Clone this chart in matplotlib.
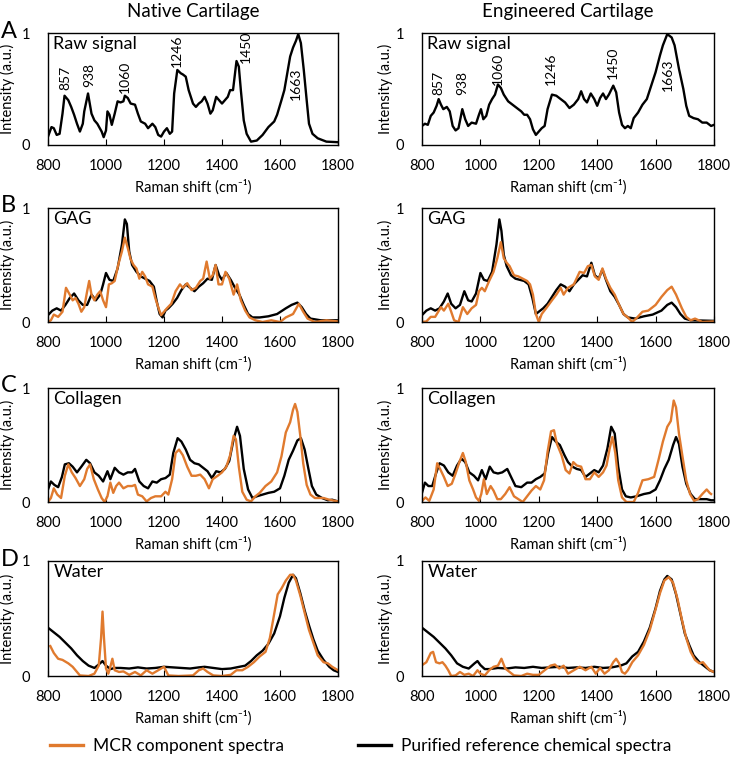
import numpy as np
import matplotlib
matplotlib.use("Agg")
import matplotlib.pyplot as plt
from matplotlib.lines import Line2D

plt.rcParams['font.family'] = ['Lato', 'DejaVu Sans']

ORANGE = '#E07A2E'

col_titles = ['Native Cartilage', 'Engineered Cartilage']
row_letters = ['A', 'B', 'C', 'D']
row_names = ['Raw signal', 'GAG', 'Collagen', 'Water']
legend_labels = ['MCR component spectra', 'Purified reference chemical spectra']
x_ticks = [800, 1000, 1200, 1400, 1600, 1800]

# peak labels on the raw spectra (text, x, y)
peak_text = ['857', '938', '1060', '1246', '1450', '1663']
peak_x_native = [861, 942, 1066, 1245, 1482, 1655]
peak_y_native = [0.49, 0.52, 0.46, 0.70, 0.73, 0.55]
peak_x_eng = [857, 938, 1061, 1243, 1455, 1643]
peak_y_eng = [0.45, 0.45, 0.54, 0.54, 0.59, 0.63]

# ---- A: raw signal ----
raw_nat_x = [800, 812, 820, 830, 840, 850, 857, 870, 880, 890, 900, 910, 920, 925, 938, 950,
             960, 970, 985, 992, 1000, 1005, 1012, 1020, 1030, 1040, 1050, 1060, 1065, 1075,
             1085, 1100, 1110, 1120, 1135, 1145, 1160, 1170, 1180, 1190, 1200, 1210, 1220,
             1228, 1235, 1246, 1258, 1265, 1275, 1285, 1300, 1310, 1320, 1330, 1340, 1350,
             1360, 1368, 1380, 1390, 1400, 1410, 1420, 1428, 1438, 1450, 1458, 1465, 1475,
             1485, 1500, 1520, 1540, 1560, 1580, 1590, 1605, 1615, 1625, 1635, 1645, 1655,
             1663, 1672, 1682, 1692, 1700, 1712, 1730, 1760, 1800]
raw_nat_y = [0.075, 0.16, 0.15, 0.09, 0.10, 0.28, 0.44, 0.40, 0.34, 0.27, 0.19, 0.12, 0.19, 0.30,
             0.46, 0.28, 0.22, 0.19, 0.12, 0.07, 0.13, 0.30, 0.27, 0.18, 0.28, 0.39, 0.38, 0.39,
             0.44, 0.42, 0.37, 0.36, 0.28, 0.21, 0.19, 0.15, 0.19, 0.16, 0.09, 0.075, 0.12, 0.15,
             0.10, 0.12, 0.46, 0.67, 0.64, 0.63, 0.61, 0.49, 0.37, 0.34, 0.37, 0.39, 0.43, 0.37,
             0.28, 0.31, 0.43, 0.40, 0.37, 0.40, 0.43, 0.49, 0.49, 0.75, 0.70, 0.49, 0.22, 0.10,
             0.03, 0.04, 0.09, 0.16, 0.21, 0.27, 0.40, 0.49, 0.64, 0.79, 0.87, 0.93, 0.99, 0.91,
             0.67, 0.40, 0.19, 0.10, 0.06, 0.03, 0.025]

raw_eng_x = [800, 810, 820, 830, 840, 850, 857, 865, 873, 885, 895, 905, 915, 925, 938, 948,
             958, 970, 985, 995, 1002, 1010, 1020, 1030, 1040, 1050, 1060, 1070, 1080, 1095,
             1110, 1125, 1140, 1150, 1160, 1170, 1180, 1190, 1200, 1210, 1220, 1230, 1245,
             1260, 1275, 1290, 1305, 1320, 1335, 1345, 1355, 1365, 1378, 1390, 1400, 1410,
             1420, 1430, 1440, 1455, 1465, 1475, 1485, 1495, 1505, 1515, 1525, 1540, 1555,
             1570, 1585, 1600, 1615, 1625, 1640, 1655, 1665, 1680, 1695, 1705, 1715, 1730,
             1745, 1760, 1775, 1790, 1800]
raw_eng_y = [0.17, 0.19, 0.18, 0.26, 0.29, 0.35, 0.41, 0.36, 0.32, 0.34, 0.30, 0.17, 0.13, 0.15,
             0.32, 0.23, 0.17, 0.20, 0.19, 0.27, 0.32, 0.23, 0.26, 0.36, 0.41, 0.45, 0.54, 0.51,
             0.45, 0.39, 0.36, 0.33, 0.30, 0.27, 0.27, 0.23, 0.14, 0.09, 0.12, 0.15, 0.17, 0.32,
             0.45, 0.44, 0.41, 0.38, 0.33, 0.36, 0.41, 0.48, 0.41, 0.38, 0.46, 0.41, 0.35, 0.42,
             0.46, 0.41, 0.45, 0.53, 0.47, 0.29, 0.18, 0.15, 0.17, 0.15, 0.24, 0.29, 0.36, 0.41,
             0.53, 0.65, 0.80, 0.89, 0.99, 0.96, 0.89, 0.68, 0.50, 0.35, 0.26, 0.24, 0.23, 0.20,
             0.20, 0.17, 0.18]

# ---- B: GAG ----
gag_nat_ref_x = [800, 815, 830, 845, 860, 875, 890, 905, 920, 935, 950, 965, 980, 990, 1000, 1012,
                 1025, 1040, 1055, 1065, 1072, 1080, 1090, 1105, 1120, 1135, 1150, 1165, 1175,
                 1185, 1195, 1205, 1215, 1230, 1245, 1260, 1275, 1290, 1305, 1320, 1335, 1350,
                 1365, 1378, 1390, 1400, 1415, 1430, 1445, 1460, 1475, 1490, 1505, 1530, 1560,
                 1590, 1620, 1640, 1660, 1675, 1690, 1705, 1740, 1800]
gag_nat_ref_y = [0.06, 0.10, 0.12, 0.10, 0.15, 0.21, 0.25, 0.19, 0.15, 0.15, 0.24, 0.19, 0.24, 0.33,
                 0.43, 0.37, 0.36, 0.47, 0.68, 0.90, 0.86, 0.62, 0.50, 0.44, 0.40, 0.38, 0.36, 0.31,
                 0.18, 0.07, 0.04, 0.10, 0.12, 0.16, 0.21, 0.28, 0.33, 0.30, 0.27, 0.31, 0.34, 0.38,
                 0.37, 0.50, 0.41, 0.37, 0.43, 0.37, 0.30, 0.24, 0.15, 0.07, 0.04, 0.04, 0.05, 0.07,
                 0.12, 0.15, 0.17, 0.13, 0.07, 0.03, 0.015, 0.015]
gag_nat_mcr_x = [800, 810, 820, 835, 850, 862, 875, 885, 895, 905, 915, 925, 935, 942, 950, 960,
                 970, 980, 990, 1000, 1010, 1020, 1030, 1042, 1055, 1065, 1075, 1085, 1095, 1105,
                 1115, 1125, 1135, 1145, 1160, 1170, 1180, 1190, 1200, 1210, 1225, 1240, 1255,
                 1265, 1280, 1295, 1310, 1325, 1335, 1347, 1358, 1368, 1378, 1388, 1400, 1412,
                 1425, 1440, 1452, 1465, 1480, 1495, 1515, 1540, 1570, 1600, 1620, 1645, 1665,
                 1680, 1695, 1720, 1760, 1800]
gag_nat_mcr_y = [0.0, 0.015, 0.065, 0.045, 0.09, 0.30, 0.24, 0.19, 0.21, 0.16, 0.09, 0.13, 0.27,
                 0.36, 0.24, 0.19, 0.24, 0.27, 0.19, 0.13, 0.33, 0.34, 0.36, 0.50, 0.62, 0.74, 0.65,
                 0.55, 0.50, 0.47, 0.38, 0.44, 0.40, 0.33, 0.31, 0.21, 0.13, 0.06, 0.09, 0.12, 0.16,
                 0.27, 0.33, 0.30, 0.34, 0.28, 0.30, 0.36, 0.38, 0.53, 0.38, 0.41, 0.50, 0.33, 0.33,
                 0.44, 0.38, 0.24, 0.33, 0.19, 0.10, 0.04, 0.015, 0.0, 0.015, 0.0, 0.04, 0.07, 0.16,
                 0.09, 0.03, 0.0, 0.015, 0.005]

gag_eng_ref_x = [800, 815, 830, 845, 860, 875, 888, 900, 915, 930, 945, 958, 970, 985, 1000, 1012,
                 1025, 1040, 1055, 1065, 1072, 1080, 1090, 1105, 1120, 1135, 1150, 1165, 1178,
                 1190, 1200, 1215, 1230, 1245, 1260, 1275, 1290, 1305, 1320, 1335, 1350, 1365,
                 1380, 1392, 1405, 1418, 1430, 1445, 1460, 1475, 1490, 1505, 1530, 1560, 1590,
                 1620, 1640, 1655, 1670, 1685, 1700, 1720, 1800]
gag_eng_ref_y = [0.06, 0.10, 0.12, 0.10, 0.12, 0.18, 0.25, 0.16, 0.12, 0.15, 0.27, 0.19, 0.18, 0.25,
                 0.43, 0.37, 0.36, 0.44, 0.68, 0.90, 0.80, 0.59, 0.49, 0.41, 0.38, 0.37, 0.36, 0.33,
                 0.21, 0.07, 0.09, 0.12, 0.16, 0.22, 0.28, 0.33, 0.31, 0.27, 0.33, 0.37, 0.41, 0.40,
                 0.52, 0.41, 0.38, 0.46, 0.37, 0.27, 0.22, 0.15, 0.07, 0.04, 0.03, 0.05, 0.065, 0.10,
                 0.15, 0.17, 0.13, 0.07, 0.03, 0.015, 0.01]
gag_eng_mcr_x = [800, 815, 830, 845, 865, 875, 890, 900, 910, 925, 940, 955, 970, 985, 995, 1005,
                 1015, 1030, 1045, 1058, 1070, 1080, 1090, 1100, 1115, 1130, 1145, 1160, 1170,
                 1180, 1190, 1200, 1210, 1225, 1245, 1260, 1275, 1285, 1300, 1320, 1340, 1355,
                 1368, 1380, 1392, 1405, 1418, 1430, 1445, 1460, 1475, 1490, 1505, 1520, 1535,
                 1555, 1575, 1600, 1620, 1640, 1655, 1670, 1690, 1705, 1720, 1735, 1760, 1800]
gag_eng_mcr_y = [0.0, 0.005, 0.045, 0.045, 0.13, 0.10, 0.16, 0.09, 0.015, 0.0, 0.13, 0.07, 0.12,
                 0.15, 0.27, 0.30, 0.27, 0.36, 0.44, 0.56, 0.70, 0.56, 0.52, 0.49, 0.41, 0.40, 0.38,
                 0.36, 0.33, 0.24, 0.07, 0.0, 0.07, 0.12, 0.19, 0.24, 0.30, 0.24, 0.30, 0.33, 0.44,
                 0.43, 0.49, 0.50, 0.40, 0.37, 0.47, 0.38, 0.30, 0.24, 0.15, 0.07, 0.04, 0.0, 0.035,
                 0.09, 0.10, 0.15, 0.22, 0.28, 0.31, 0.24, 0.12, 0.045, 0.015, 0.03, 0.0, 0.005]

# ---- C: collagen ----
col_nat_ref_x = [800, 810, 822, 835, 848, 858, 872, 885, 900, 915, 932, 945, 960, 975, 990, 1005,
                 1015, 1030, 1045, 1060, 1075, 1090, 1100, 1115, 1130, 1145, 1160, 1175, 1190,
                 1205, 1220, 1232, 1247, 1260, 1275, 1290, 1305, 1320, 1335, 1350, 1365, 1380,
                 1395, 1410, 1425, 1440, 1452, 1462, 1475, 1490, 1505, 1520, 1540, 1560, 1580,
                 1600, 1615, 1630, 1645, 1660, 1672, 1685, 1698, 1710, 1725, 1745, 1765, 1780, 1800]
col_nat_ref_y = [0.11, 0.18, 0.15, 0.13, 0.22, 0.33, 0.34, 0.31, 0.26, 0.31, 0.37, 0.34, 0.26, 0.23,
                 0.18, 0.27, 0.20, 0.30, 0.26, 0.24, 0.26, 0.26, 0.29, 0.18, 0.14, 0.12, 0.18, 0.17,
                 0.20, 0.21, 0.24, 0.43, 0.56, 0.53, 0.46, 0.37, 0.34, 0.33, 0.30, 0.27, 0.21, 0.27,
                 0.26, 0.29, 0.36, 0.55, 0.66, 0.58, 0.29, 0.11, 0.035, 0.05, 0.065, 0.08, 0.09, 0.12,
                 0.23, 0.37, 0.45, 0.54, 0.56, 0.46, 0.29, 0.14, 0.065, 0.035, 0.015, 0.02, 0.005]
col_nat_mcr_x = [800, 810, 820, 832, 845, 858, 870, 882, 895, 910, 925, 935, 945, 958, 972, 985,
                 995, 1005, 1015, 1025, 1035, 1045, 1060, 1075, 1090, 1100, 1110, 1125, 1140,
                 1155, 1170, 1190, 1205, 1215, 1228, 1240, 1252, 1265, 1280, 1295, 1310, 1325,
                 1340, 1355, 1368, 1385, 1400, 1415, 1428, 1440, 1448, 1458, 1470, 1485, 1500,
                 1515, 1530, 1550, 1570, 1590, 1605, 1620, 1635, 1645, 1652, 1660, 1670, 1680,
                 1692, 1705, 1720, 1750, 1770, 1800]
col_nat_mcr_y = [0.0, 0.035, 0.12, 0.065, 0.035, 0.23, 0.33, 0.26, 0.21, 0.14, 0.20, 0.29, 0.33,
                 0.20, 0.11, 0.035, 0.0, 0.05, 0.17, 0.08, 0.14, 0.17, 0.12, 0.14, 0.14, 0.15, 0.065,
                 0.05, 0.005, 0.035, 0.05, 0.05, 0.09, 0.065, 0.20, 0.43, 0.46, 0.41, 0.31, 0.23,
                 0.23, 0.24, 0.20, 0.12, 0.20, 0.23, 0.26, 0.31, 0.41, 0.58, 0.55, 0.31, 0.09, 0.02,
                 0.005, 0.05, 0.08, 0.14, 0.18, 0.26, 0.40, 0.61, 0.70, 0.81, 0.86, 0.79, 0.58, 0.34,
                 0.15, 0.065, 0.035, 0.035, 0.02, 0.005]

col_eng_ref_x = [800, 810, 822, 835, 848, 860, 875, 890, 905, 920, 935, 948, 962, 978, 992, 1005,
                 1018, 1032, 1045, 1060, 1075, 1092, 1105, 1120, 1140, 1160, 1175, 1190, 1205,
                 1220, 1232, 1245, 1258, 1272, 1288, 1300, 1315, 1330, 1345, 1360, 1375, 1390,
                 1405, 1420, 1435, 1448, 1460, 1472, 1485, 1498, 1515, 1535, 1560, 1580, 1600,
                 1615, 1630, 1645, 1660, 1670, 1680, 1692, 1705, 1720, 1735, 1755, 1775, 1790, 1800]
col_eng_ref_y = [0.08, 0.17, 0.14, 0.14, 0.25, 0.34, 0.32, 0.26, 0.23, 0.32, 0.38, 0.35, 0.26, 0.23,
                 0.19, 0.28, 0.20, 0.31, 0.26, 0.25, 0.26, 0.29, 0.22, 0.14, 0.13, 0.17, 0.17, 0.20,
                 0.22, 0.25, 0.43, 0.57, 0.53, 0.50, 0.41, 0.35, 0.31, 0.29, 0.28, 0.22, 0.25, 0.28,
                 0.26, 0.32, 0.47, 0.66, 0.60, 0.31, 0.11, 0.05, 0.04, 0.05, 0.07, 0.08, 0.11, 0.19,
                 0.29, 0.37, 0.50, 0.57, 0.51, 0.31, 0.16, 0.07, 0.025, 0.025, 0.025, 0.015, 0.015]
col_eng_mcr_x = [800, 812, 825, 840, 852, 862, 875, 888, 902, 915, 928, 940, 950, 962, 975, 985,
                 995, 1003, 1012, 1022, 1035, 1045, 1058, 1070, 1085, 1100, 1115, 1130, 1145,
                 1160, 1175, 1190, 1205, 1218, 1230, 1242, 1252, 1262, 1278, 1292, 1305, 1318,
                 1330, 1345, 1360, 1375, 1390, 1405, 1420, 1432, 1442, 1452, 1462, 1472, 1485,
                 1500, 1525, 1540, 1555, 1575, 1595, 1610, 1625, 1640, 1652, 1662, 1670, 1680,
                 1692, 1705, 1718, 1732, 1745, 1760, 1775, 1785, 1790]
col_eng_mcr_y = [0.01, 0.04, 0.01, 0.11, 0.34, 0.29, 0.22, 0.14, 0.16, 0.25, 0.35, 0.43, 0.35, 0.19,
                 0.11, 0.04, 0.01, 0.07, 0.20, 0.07, 0.14, 0.10, 0.025, 0.025, 0.07, 0.13, 0.05,
                 0.025, 0.0, 0.05, 0.10, 0.14, 0.11, 0.19, 0.44, 0.62, 0.63, 0.51, 0.41, 0.28, 0.25,
                 0.35, 0.32, 0.31, 0.20, 0.20, 0.26, 0.22, 0.26, 0.32, 0.46, 0.57, 0.43, 0.19, 0.04,
                 0.0, 0.0, 0.08, 0.19, 0.20, 0.22, 0.37, 0.53, 0.66, 0.71, 0.89, 0.83, 0.60, 0.40,
                 0.19, 0.07, 0.01, 0.025, 0.07, 0.11, 0.08, 0.07]

# ---- D: water ----
wat_nat_ref_x = [800, 820, 840, 860, 880, 900, 920, 940, 960, 975, 988, 1000, 1015, 1030, 1050,
                 1080, 1110, 1140, 1170, 1200, 1230, 1260, 1290, 1320, 1340, 1370, 1400, 1430,
                 1460, 1480, 1500, 1520, 1540, 1560, 1580, 1600, 1615, 1630, 1645, 1655, 1670,
                 1685, 1700, 1715, 1730, 1750, 1770, 1785, 1800]
wat_nat_ref_y = [0.42, 0.38, 0.34, 0.29, 0.24, 0.18, 0.13, 0.09, 0.07, 0.10, 0.13, 0.09, 0.06, 0.07,
                 0.07, 0.065, 0.075, 0.065, 0.07, 0.08, 0.075, 0.07, 0.065, 0.075, 0.08, 0.07, 0.06,
                 0.065, 0.08, 0.09, 0.13, 0.18, 0.22, 0.28, 0.37, 0.52, 0.68, 0.81, 0.88, 0.85, 0.72,
                 0.57, 0.44, 0.32, 0.22, 0.14, 0.08, 0.05, 0.035]
wat_nat_mcr_x = [808, 820, 835, 850, 870, 885, 900, 910, 940, 960, 975, 983, 988, 993, 1000, 1008,
                 1015, 1022, 1030, 1045, 1060, 1080, 1100, 1120, 1140, 1160, 1180, 1200, 1215,
                 1250, 1300, 1320, 1335, 1350, 1370, 1400, 1430, 1450, 1470, 1490, 1510, 1530,
                 1550, 1565, 1580, 1592, 1605, 1620, 1635, 1645, 1655, 1670, 1685, 1700, 1715,
                 1730, 1750, 1765, 1780, 1800]
wat_nat_mcr_y = [0.26, 0.20, 0.15, 0.14, 0.11, 0.08, 0.035, 0.005, 0.0, 0.02, 0.09, 0.33, 0.56,
                 0.33, 0.065, 0.02, 0.08, 0.15, 0.05, 0.035, 0.04, 0.01, 0.035, 0.005, 0.05, 0.02,
                 0.05, 0.08, 0.005, 0.0, 0.005, 0.05, 0.065, 0.035, 0.005, 0.0, 0.01, 0.05, 0.05,
                 0.08, 0.12, 0.17, 0.21, 0.33, 0.54, 0.71, 0.76, 0.83, 0.88, 0.88, 0.83, 0.70, 0.55,
                 0.40, 0.29, 0.18, 0.12, 0.11, 0.08, 0.05]

wat_eng_ref_x = [800, 820, 840, 860, 880, 900, 920, 940, 960, 980, 990, 1000, 1015, 1030, 1060,
                 1090, 1120, 1150, 1180, 1210, 1240, 1270, 1300, 1330, 1360, 1390, 1420, 1450,
                 1480, 1500, 1520, 1540, 1560, 1580, 1600, 1615, 1630, 1640, 1655, 1670, 1685,
                 1700, 1715, 1730, 1750, 1770, 1785, 1800]
wat_eng_ref_y = [0.42, 0.38, 0.34, 0.29, 0.24, 0.18, 0.11, 0.08, 0.065, 0.11, 0.13, 0.095, 0.06,
                 0.06, 0.07, 0.065, 0.075, 0.07, 0.08, 0.07, 0.075, 0.08, 0.07, 0.075, 0.07, 0.08,
                 0.07, 0.075, 0.09, 0.11, 0.17, 0.21, 0.30, 0.42, 0.59, 0.74, 0.84, 0.87, 0.84, 0.71,
                 0.54, 0.37, 0.27, 0.18, 0.12, 0.08, 0.05, 0.035]
wat_eng_mcr_x = [800, 815, 830, 838, 848, 860, 870, 880, 890, 900, 915, 930, 945, 960, 975, 990,
                 1000, 1015, 1030, 1045, 1060, 1072, 1085, 1100, 1115, 1140, 1160, 1180, 1200,
                 1220, 1240, 1255, 1270, 1285, 1300, 1320, 1340, 1360, 1380, 1395, 1410, 1425,
                 1440, 1455, 1465, 1475, 1485, 1495, 1505, 1520, 1540, 1560, 1580, 1600, 1615,
                 1630, 1645, 1660, 1675, 1690, 1705, 1720, 1735, 1750, 1762, 1772, 1785, 1800]
wat_eng_mcr_y = [0.094, 0.12, 0.20, 0.21, 0.12, 0.11, 0.12, 0.09, 0.05, 0.0, 0.005, 0.035, 0.01,
                 0.02, 0.0, 0.05, 0.02, 0.005, 0.05, 0.08, 0.09, 0.15, 0.065, 0.035, 0.005, 0.0,
                 0.02, 0.01, 0.01, 0.05, 0.09, 0.10, 0.065, 0.09, 0.02, 0.05, 0.08, 0.05, 0.08, 0.02,
                 0.07, 0.02, 0.05, 0.12, 0.15, 0.11, 0.035, 0.02, 0.05, 0.12, 0.18, 0.27, 0.40, 0.58,
                 0.72, 0.83, 0.86, 0.81, 0.67, 0.49, 0.33, 0.21, 0.14, 0.11, 0.12, 0.09, 0.05, 0.035]

ref_series = [[(raw_nat_x, raw_nat_y), (raw_eng_x, raw_eng_y)],
              [(gag_nat_ref_x, gag_nat_ref_y), (gag_eng_ref_x, gag_eng_ref_y)],
              [(col_nat_ref_x, col_nat_ref_y), (col_eng_ref_x, col_eng_ref_y)],
              [(wat_nat_ref_x, wat_nat_ref_y), (wat_eng_ref_x, wat_eng_ref_y)]]
mcr_series = [[None, None],
              [(gag_nat_mcr_x, gag_nat_mcr_y), (gag_eng_mcr_x, gag_eng_mcr_y)],
              [(col_nat_mcr_x, col_nat_mcr_y), (col_eng_mcr_x, col_eng_mcr_y)],
              [(wat_nat_mcr_x, wat_nat_mcr_y), (wat_eng_mcr_x, wat_eng_mcr_y)]]

W, H = 730, 757
fig = plt.figure(figsize=(W / 100, H / 100), dpi=100)

# pixel boxes of the plot areas
col_left = [48, 422]
col_right = [338, 714]
row_top = [33, 208, 388, 561]
row_bot = [145, 322, 502, 676]
ylab_x = [-0.114, -0.099]

for r in range(4):
    for c in range(2):
        ax = fig.add_axes([col_left[c] / W, 1 - row_bot[r] / H,
                           (col_right[c] - col_left[c]) / W, (row_bot[r] - row_top[r]) / H])
        xs, ys = ref_series[r][c]
        ax.plot(xs, ys, color='black', lw=1.7)
        if mcr_series[r][c] is not None:
            xm, ym = mcr_series[r][c]
            ax.plot(xm, ym, color=ORANGE, lw=1.7)
        ax.set_xlim(800, 1800)
        ax.set_ylim(0, 1)
        ax.set_xticks(x_ticks)
        ax.set_yticks([0, 1])
        ax.set_yticklabels(['0', '1'])
        ax.tick_params(axis='x', direction='in', length=4, width=0.8, pad=10, labelsize=10.5)
        ax.tick_params(axis='y', length=0, pad=13, labelsize=10.5)
        for sp in ax.spines.values():
            sp.set_linewidth(1.0)
        ax.set_xlabel('Raman shift (cm⁻¹)', fontsize=10.5, labelpad=5)
        ax.set_ylabel('Intensity (a.u.)', fontsize=10.5)
        ax.yaxis.set_label_coords(ylab_x[c], 0.5)
        ax.text(0.018, 0.97, row_names[r], transform=ax.transAxes, ha='left', va='top',
                fontsize=13)
        if r == 0:
            px = peak_x_native if c == 0 else peak_x_eng
            py = peak_y_native if c == 0 else peak_y_eng
            for t, xv, yv in zip(peak_text, px, py):
                va = 'center' if t == '1663' else 'bottom'
                ax.text(xv, yv, t, rotation=90, ha='center', va=va, fontsize=10)
            fig.text((col_left[c] + col_right[c]) / 2 / W, 1 - 11 / H, col_titles[c],
                     ha='center', va='center', fontsize=13.5)
        if c == 0:
            fig.text(1 / W, 1 - (row_top[r] - 2) / H, row_letters[r], ha='left', va='center',
                     fontsize=17)

h1 = Line2D([], [], color=ORANGE, lw=2.4)
h2 = Line2D([], [], color='black', lw=2.4)
fig.legend([h1], [legend_labels[0]], loc='center left', bbox_to_anchor=(50 / W, 1 - 746 / H),
           frameon=False, fontsize=12.5, handlelength=1.9, handletextpad=0.6, borderpad=0,
           borderaxespad=0)
fig.legend([h2], [legend_labels[1]], loc='center left', bbox_to_anchor=(358 / W, 1 - 746 / H),
           frameon=False, fontsize=12.5, handlelength=1.9, handletextpad=0.6, borderpad=0,
           borderaxespad=0)

fig.savefig('out.png', dpi=100)
